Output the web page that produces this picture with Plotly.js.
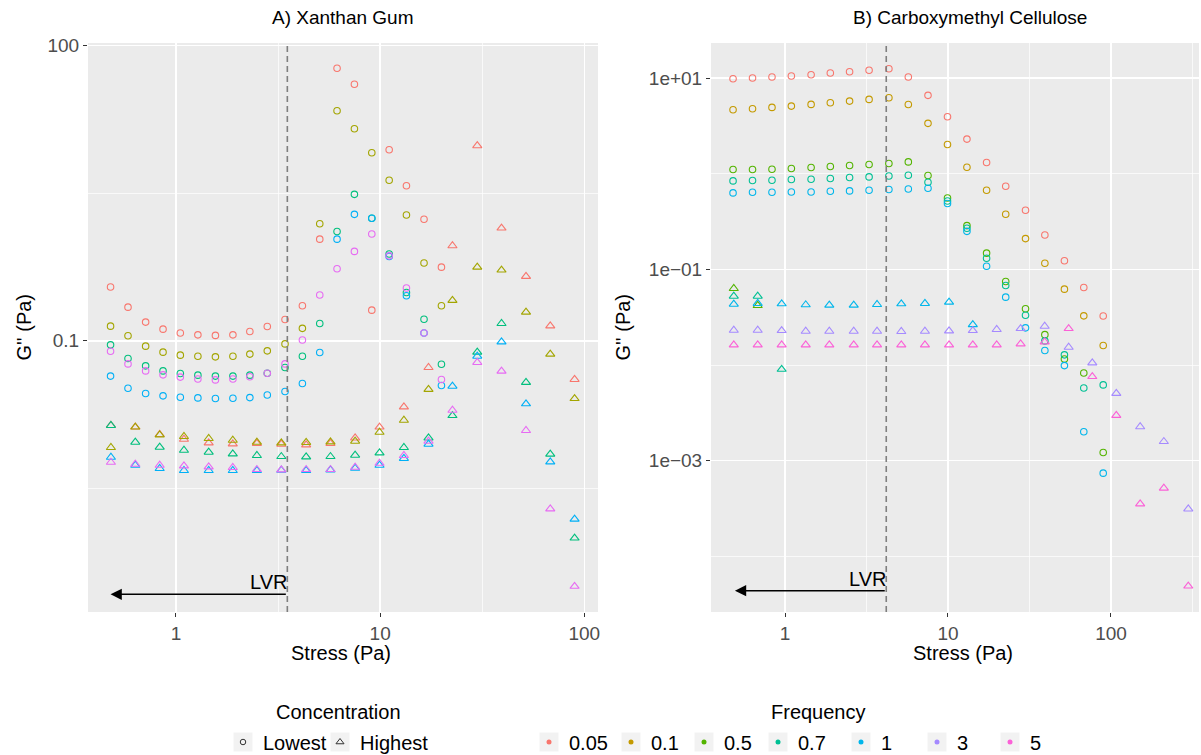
<!DOCTYPE html>
<html><head><meta charset="utf-8">
<script src="https://cdn.plot.ly/plotly-3.0.1.min.js"></script>
<style>body{margin:0;background:#fff}#chart{width:1201px;height:755px}</style>
</head><body><div id="chart"></div>
<script>
// ---------- stress grids (Pa) ----------
const stressLowA  = [0.478,0.582,0.710,0.864,1.05,1.28,1.56,1.90,2.30,2.80,3.42,4.16,5.06,6.15,7.48,9.10,11.07,13.45,16.4,19.96];
const stressGrid  = [0.48,0.632,0.832,1.094,1.446,1.897,2.49,3.28,4.34,5.71,7.54,9.93,13.07,17.25,22.6,29.9,39.3,51.8,68.1,89.6];
const stressHighB = [0.485,0.680,0.954,1.34,1.87,2.64,3.67,5.17,7.22,10.15,14.2,19.9,27.9,39.2,55.0,76.8,107.8,151,211,298];

// ---------- A) Xanthan Gum : lowest concentration (circles) ----------
const xgLowRed     = [0.352,0.220,0.155,0.1315,0.120,0.115,0.1135,0.115,0.1245,0.140,0.165,0.227,1.08,58.9,40.5,0.205,8.75,3.77,1.72,0.561];
const xgLowOlive   = [0.141,0.1125,0.0883,0.0767,0.0715,0.0698,0.0687,0.0698,0.0733,0.0791,0.0931,0.134,1.55,21.8,14.3,8.16,4.28,1.90,0.617,0.227];
const xgLowGreen   = [0.0910,0.0662,0.0557,0.0495,0.0466,0.0448,0.0438,0.0438,0.0448,0.0469,0.0536,0.0698,0.150,1.29,3.08,1.76,0.762,0.310,0.166,0.0579];
const xgLowBlue    = [0.0438,0.0330,0.0292,0.0276,0.0267,0.0263,0.0259,0.0261,0.0265,0.0281,0.0305,0.0369,0.0762,1.08,1.93,1.76,0.721,0.287,0.120,0.0352];
const xgLowMagenta = [0.0785,0.0583,0.0495,0.0451,0.0428,0.0410,0.0401,0.0410,0.0431,0.0469,0.0583,0.102,0.292,0.540,0.811,1.22,0.731,0.344,0.120,0.0405];
// ---------- A) Xanthan Gum : highest concentration (triangles) ----------
const xgHighRed     = [0.0138,0.0133,0.01117,0.0100,0.00918,0.00896,0.00906,0.00890,0.00876,0.00906,0.0103,0.0133,0.0213,0.0536,0.925,9.62,1.40,0.452,0.142,0.0405];
const xgHighOlive   = [0.00824,0.0133,0.01107,0.01066,0.01017,0.00977,0.00933,0.00918,0.00927,0.00940,0.00955,0.01178,0.0156,0.0321,0.258,0.561,0.524,0.196,0.0733,0.0259];
const xgHighGreen   = [0.0138,0.00933,0.00830,0.00773,0.00738,0.00710,0.00683,0.00667,0.00661,0.00667,0.00688,0.00726,0.00824,0.0103,0.0174,0.0767,0.150,0.0378,0.00705,0.00099];
const xgHighBlue    = [0.00656,0.00544,0.00504,0.00481,0.00481,0.00481,0.00481,0.00484,0.00481,0.00488,0.00507,0.00544,0.00638,0.00890,0.0346,0.0698,0.0977,0.0229,0.00588,0.00154];
const xgHighMagenta = [0.00583,0.00557,0.00544,0.00536,0.00523,0.00516,0.00492,0.00488,0.00492,0.00492,0.00519,0.00570,0.00683,0.00955,0.0197,0.0603,0.0492,0.01227,0.00196,0.000320];

// ---------- B) Carboxymethyl Cellulose : lowest concentration (circles) ----------
const cmcLow005 = [9.83,10.0,10.24,10.49,10.83,11.28,11.64,12.04,12.52,10.24,6.59,3.94,2.30,1.31,0.740,0.415,0.229,0.123,0.0648,0.0326];
const cmcLow01  = [4.66,4.77,4.93,5.09,5.30,5.51,5.74,5.98,6.22,5.28,3.36,2.02,1.17,0.671,0.377,0.210,0.116,0.0622,0.0327,0.0160];
const cmcLow05  = [1.107,1.107,1.114,1.134,1.161,1.190,1.219,1.248,1.279,1.329,0.957,0.558,0.287,0.148,0.0748,0.0388,0.0208,0.0116,0.00828,0.00122];
const cmcLow07  = [0.841,0.849,0.855,0.869,0.876,0.891,0.912,0.926,0.948,0.964,0.815,0.519,0.269,0.131,0.0679,0.0332,0.0179,0.0128,0.00577,0.00621];
const cmcLow1   = [0.630,0.640,0.640,0.645,0.645,0.656,0.661,0.672,0.683,0.693,0.705,0.488,0.250,0.108,0.0513,0.0245,0.0142,0.00988,0.00201,0.000743];
// ---------- B) Carboxymethyl Cellulose : highest concentration (triangles) ----------
const cmcHigh05 = [0.0632,0.0420];
const cmcHigh07 = [0.0525,0.0525,0.00904];
const cmcHigh1  = [0.0433,0.0441,0.0437,0.0427,0.0423,0.0423,0.0430,0.0437,0.0441,0.0455,0.0265];
const cmcHigh3  = [0.02314,0.02314,0.02296,0.02259,0.02259,0.02259,0.02259,0.02244,0.02259,0.0228,0.02296,0.02355,0.0241,0.02547,0.01536,0.01054,0.00507,0.00227,0.00159,0.000314];
const cmcHigh5  = [0.01629,0.01629,0.01629,0.01629,0.01629,0.01629,0.01629,0.01629,0.01629,0.01629,0.01629,0.01629,0.01667,0.0175,0.0241,0.00759,0.00298,0.000355,0.000518,0.0000491];

// ---------- labels / limits ----------
const lvrStress = [3.51, 4.18];        // LVR limit for panel A and B
const lvrArrowEnd = [0.478, 0.493];    // arrow tip stress
const freqLabels = ['0.05','0.1','0.5','0.7','1','3','5'];
const concLabels = ['Lowest','Highest'];
const yTicksA = [0.0001, 0.1, 100];
const yTickTextA = ['1e-04','0.1','100'];
const yTicksB = [1e-5, 1e-3, 1e-1, 10];
const yTickTextB = ['1e\u221205','1e\u221203','1e\u221201','1e+01'];
const xTicks = [1, 10, 100];
const xTickText = ['1','10','100'];

const colA = ['#F8766D','#A3A500','#00BF7D','#00B0F6','#E76BF3'];
const freqColors = ['#F8766D','#C49A00','#53B400','#00C094','#00B6EB','#A58AFF','#FB61D7'];

const traces = [];
function pts(x, y, sym, color, xa, ya) {
  traces.push({type:'scatter', mode:'markers', x:x.slice(0, y.length), y:y, xaxis:xa, yaxis:ya,
    showlegend:false, hoverinfo:'x+y',
    marker:{symbol:sym, size: sym==='circle-open'?6.5:8, color:color, line:{width:1.1, color:color}}});
}
const lowA = [xgLowRed, xgLowOlive, xgLowGreen, xgLowBlue, xgLowMagenta];
const highA = [xgHighRed, xgHighOlive, xgHighGreen, xgHighBlue, xgHighMagenta];
lowA.forEach((s,i)=>pts(stressLowA, s, 'circle-open', colA[i], 'x', 'y'));
highA.forEach((s,i)=>pts(stressGrid, s, 'triangle-up-open', colA[i], 'x', 'y'));
const lowB = [cmcLow005, cmcLow01, cmcLow05, cmcLow07, cmcLow1];
lowB.forEach((s,i)=>pts(stressGrid, s, 'circle-open', freqColors[i], 'x2', 'y2'));
const highB = [[cmcHigh05,2],[cmcHigh07,3],[cmcHigh1,4],[cmcHigh3,5],[cmcHigh5,6]];
highB.forEach(([s,ci])=>pts(stressHighB, s, 'triangle-up-open', freqColors[ci], 'x2', 'y2'));

// legend entries
const concSyms = ['circle-open','triangle-up-open'];
const concW = [52, 80];
concLabels.forEach((n,i)=>traces.push({type:'scatter', mode:'markers', x:[null], y:[null], name:n,
  legend:'legend', showlegend:true, legendwidth:concW[i],
  marker:{symbol:concSyms[i], size:i?7:5.5, color:'#333333', line:{width:1, color:'#333333'}}}));
const freqW = [37, 28, 29, 38, 31, 28, 30];
freqLabels.forEach((n,i)=>traces.push({type:'scatter', mode:'markers', x:[null], y:[null], name:n,
  legend:'legend2', showlegend:true, legendwidth:freqW[i],
  marker:{symbol:'circle', size:5, color:freqColors[i]}}));

const font = 'Liberation Sans, Arial, Helvetica, sans-serif';
const L = 88, T = 43, W = 1111, H = 569;
const px = v => (v - L) / W;
const py = v => (T + H - v) / H;

function xAxis(range, domain, anchor) {
  return {type:'log', range:range, domain:domain, anchor:anchor,
    tickmode:'array', tickvals:xTicks, ticktext:xTickText,
    ticks:'outside', ticklen:4, tickwidth:1, tickcolor:'#333333',
    tickfont:{family:font, size:19, color:'#4D4D4D'},
    showgrid:true, gridcolor:'#FFFFFF', gridwidth:1.4, zeroline:false, showline:false,
    minor:{tickmode:'array', tickvals:[Math.pow(10,0.5), Math.pow(10,1.5), Math.pow(10,2.5)], showgrid:true, gridcolor:'#FFFFFF', gridwidth:0.7, ticks:''}};
}
function yAxis(range, tv, tt, minor, anchor) {
  return {type:'log', range:range, anchor:anchor, domain:[0,1],
    tickmode:'array', tickvals:tv, ticktext:tt,
    ticks:'outside', ticklen:4, tickwidth:1, tickcolor:'#333333',
    tickfont:{family:font, size:19, color:'#4D4D4D'},
    showgrid:true, gridcolor:'#FFFFFF', gridwidth:1.4, zeroline:false, showline:false,
    minor:{tickmode:'array', tickvals:minor, showgrid:true, gridcolor:'#FFFFFF', gridwidth:0.7, ticks:''}};
}

const ann = [];
const txt = (text, x, y, opts) => ann.push(Object.assign({text:text, x:x, y:y, xref:'paper', yref:'paper',
  showarrow:false, font:{family:font, size:20, color:'#000'}, xanchor:'center', yanchor:'middle'}, opts||{}));
txt('A) Xanthan Gum', px(343), py(18), {font:{family:font, size:19, color:'#000'}});
txt('B) Carboxymethyl Cellulose', px(970), py(18), {font:{family:font, size:19, color:'#000'}});
txt('Stress (Pa)', px(341), py(653));
txt('Stress (Pa)', px(963), py(653));
txt("G'' (Pa)", px(23), 0.5, {textangle:-90});
txt("G'' (Pa)", px(622), 0.5, {textangle:-90});
txt('Concentration', px(338), py(712));
txt('Frequency', px(818), py(712));

// LVR arrows and labels
[['x','y',0.031],['x2','y2',0.0375]].forEach(([xa,ya,yf],i)=>{
  ann.push({x:Math.log10(lvrArrowEnd[i]), y:yf, xref:xa, yref:ya+' domain',
    ax:Math.log10(lvrStress[i]), ay:0, axref:xa, ayref:'pixel', showarrow:true,
    arrowhead:2, arrowsize:1.5, arrowwidth:1.5, arrowcolor:'#000', text:''});
  ann.push({x:Math.log10(lvrStress[i]), y:yf, xref:xa, yref:ya+' domain', showarrow:false,
    text:'LVR', xanchor:'right', yanchor:'bottom', yshift:-1, xshift:2, font:{family:font, size:20, color:'#000'}});
});

const shapes = [];
[['x','y'],['x2','y2']].forEach(([xa,ya],i)=>shapes.push({type:'line', xref:xa, yref:ya+' domain',
  x0:lvrStress[i], x1:lvrStress[i], y0:0, y1:1, line:{color:'#7F7F7F', width:1.6, dash:'6px,4px'}}));
// legend key backgrounds (grey boxes behind the keys)
const keyCentres = [243, 340, 549, 631, 704, 778, 861, 937, 1010];
keyCentres.forEach(c=>shapes.push({type:'rect', xref:'paper', yref:'paper',
  x0:px(c-9.5), x1:px(c+9.5), y0:py(751.5), y1:py(732.5), fillcolor:'#F2F2F2', line:{width:0}, layer:'above'}));

const layout = {
  width:1201, height:755, paper_bgcolor:'#FFFFFF', plot_bgcolor:'#EBEBEB',
  margin:{l:L, r:1201-L-W, t:T, b:755-T-H, autoexpand:false},
  font:{family:font, color:'#000'},
  xaxis: xAxis([-0.431, 2.067], [0, px(598)], 'y'),
  yaxis: yAxis([-3.756, 2.027], yTicksA, yTickTextA, [Math.pow(10,-2.5), Math.pow(10,0.5)], 'x'),
  xaxis2: xAxis([-0.454, 2.54], [px(711), 1], 'y2'),
  yaxis2: yAxis([-4.58, 1.366], yTicksB, yTickTextB, [1e-4, 1e-2, 1], 'x2'),
  annotations: ann, shapes: shapes,
  legend:{orientation:'h', x:px(223), xanchor:'left', y:py(742), yanchor:'middle',
    bgcolor:'rgba(0,0,0,0)', font:{family:font, size:20, color:'#000'}, itemwidth:30},
  legend2:{orientation:'h', x:px(529), xanchor:'left', y:py(742), yanchor:'middle',
    bgcolor:'rgba(0,0,0,0)', font:{family:font, size:20, color:'#000'}, itemwidth:30},
  showlegend:true
};
Plotly.newPlot('chart', traces, layout, {displayModeBar:false, staticPlot:true});
</script></body></html>
